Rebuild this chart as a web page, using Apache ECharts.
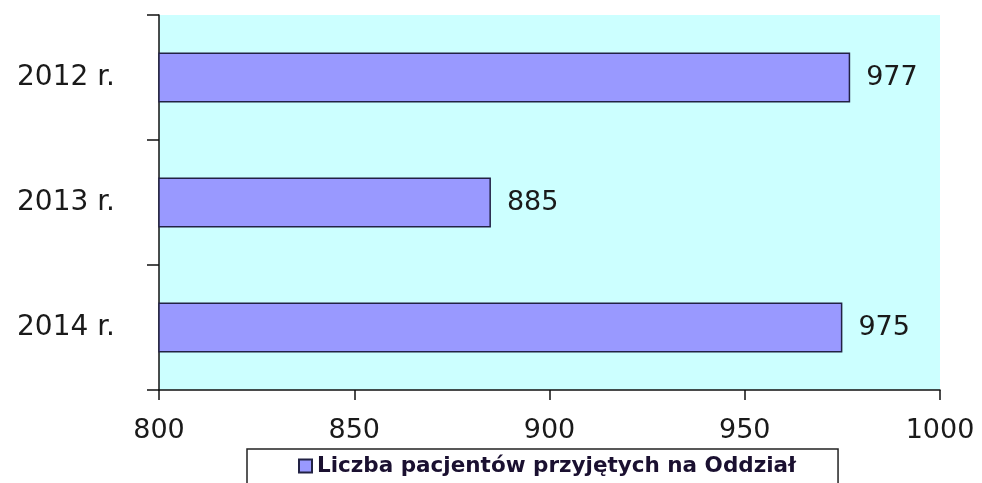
<!DOCTYPE html>
<html>
<head>
<meta charset="utf-8">
<script src="https://cdn.jsdelivr.net/npm/echarts@6/dist/echarts.min.js"></script>
<style>
  html, body { margin: 0; padding: 0; background: #fff; }
  #chart { width: 982px; height: 483px; }
</style>
</head>
<body>
<div id="chart"></div>
<script>
const years = ['2012 r.', '2013 r.', '2014 r.'];
const patients = [977, 885, 975];
const seriesName = 'Liczba pacjentów przyjętych na Oddział';

const chart = echarts.init(document.getElementById('chart'));
const option = {
    animation: false,
    grid: {
        left: 159, right: 42, top: 15, bottom: 93,
        show: true,
        backgroundColor: '#ccffff',
        borderWidth: 0
    },
    legend: {
        data: [seriesName],
        left: 247,
        top: 449,
        orient: 'horizontal',
        padding: [6, 42, 20, 51],
        borderColor: '#222',
        borderWidth: 1.5,
        itemWidth: 13,
        itemHeight: 13,
        itemGap: 10,
        icon: 'rect',
        textStyle: {
            fontFamily: 'DejaVu Sans',
            fontWeight: 'bold',
            fontSize: 21.5,
            color: '#1a1030'
        }
    },
    xAxis: {
        type: 'value',
        min: 800,
        max: 1000,
        interval: 50,
        splitLine: { show: false },
        axisLine: { show: true, lineStyle: { color: '#111', width: 1.5 } },
        axisTick: { show: true, length: 10, lineStyle: { color: '#111', width: 1.5 } },
        axisLabel: {
            formatter: v => String(v),
            fontFamily: 'DejaVu Sans',
            fontSize: 27,
            color: '#1a1a1a',
            margin: 27
        }
    },
    yAxis: {
        type: 'category',
        data: years,
        inverse: true,
        axisLine: { show: true, lineStyle: { color: '#111', width: 1.5 } },
        axisTick: { show: true, length: 12, lineStyle: { color: '#111', width: 1.5 } },
        axisLabel: {
            fontFamily: 'DejaVu Sans',
            fontSize: 28,
            color: '#1a1a1a',
            margin: 44
        }
    },
    series: [{
        name: seriesName,
        type: 'bar',
        data: patients,
        barWidth: '40%',
        itemStyle: {
            color: '#9999ff',
            borderColor: '#222244',
            borderWidth: 1.5
        },
        label: {
            show: true,
            position: 'right',
            distance: 16,
            fontFamily: 'DejaVu Sans',
            fontSize: 27,
            color: '#1a1a1a'
        }
    }]
};
chart.setOption(option);
</script>
</body>
</html>
